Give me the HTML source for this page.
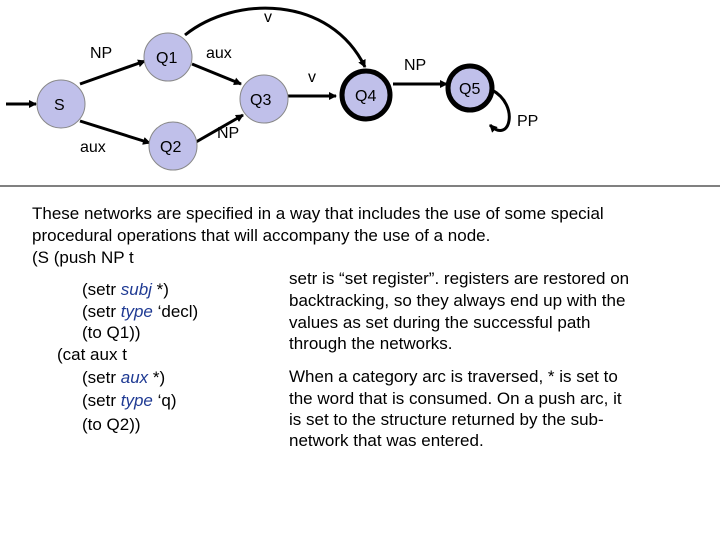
<!DOCTYPE html>
<html><head><meta charset="utf-8"><style>
body{margin:0;background:#fff}
svg{display:block}
text{font-family:"Liberation Sans",Arial,sans-serif}
</style></head><body>
<svg width="720" height="540" viewBox="0 0 720 540" xmlns="http://www.w3.org/2000/svg">
<defs>
<marker id="a" markerWidth="8" markerHeight="8" refX="7" refY="4" orient="auto" markerUnits="userSpaceOnUse">
<path d="M0,0 L8,4 L0,8 z" fill="#000"/></marker>
</defs>
<g stroke="#000" stroke-width="3" fill="none" marker-end="url(#a)">
<line x1="6" y1="104" x2="36" y2="104"/>
<line x1="80" y1="84" x2="145" y2="61"/>
<line x1="80" y1="121" x2="150" y2="143"/>
<line x1="192" y1="64" x2="241" y2="84"/>
<line x1="196" y1="142" x2="243" y2="115"/>
<line x1="288" y1="96" x2="336" y2="96"/>
<line x1="393" y1="84" x2="447" y2="84"/>
<path d="M185,35 C235,-5 330,-5 365,67"/>
<path d="M492,90 C520,105 510,145 490,125" />
</g>
<g fill="#c0c0ea" stroke="#888" stroke-width="1">
<circle cx="61" cy="104" r="24"/>
<circle cx="168" cy="57" r="24"/>
<circle cx="173" cy="146" r="24"/>
<circle cx="264" cy="99" r="24"/>
</g>
<g fill="#c0c0ea" stroke="#000" stroke-width="5">
<circle cx="366" cy="95" r="24"/>
<circle cx="470" cy="88" r="22"/>
</g>
<g font-size="16" fill="#000">
<text x="54" y="110">S</text>
<text x="156" y="63">Q1</text>
<text x="160" y="152">Q2</text>
<text x="250" y="105">Q3</text>
<text x="355" y="101">Q4</text>
<text x="459" y="94">Q5</text>
<text x="90" y="58">NP</text>
<text x="80" y="152">aux</text>
<text x="206" y="58">aux</text>
<text x="217" y="138">NP</text>
<text x="264" y="22">v</text>
<text x="308" y="82">v</text>
<text x="404" y="70">NP</text>
<text x="517" y="126">PP</text>
</g>
<line x1="0" y1="186" x2="720" y2="186" stroke="#000" stroke-width="1"/>
<g font-size="17" fill="#000">
<text x="32" y="219">These networks are specified in a way that includes the use of some special</text>
<text x="32" y="241">procedural operations that will accompany the use of a node.</text>
<text x="32" y="263">(S (push NP  t</text>
<text x="82" y="295">(setr <tspan fill="#1f3a93" font-style="italic">subj</tspan> *)</text>
<text x="82" y="317">(setr <tspan fill="#1f3a93" font-style="italic">type</tspan> ‘decl)</text>
<text x="82" y="338">(to Q1))</text>
<text x="57" y="360">(cat aux  t</text>
<text x="82" y="383">(setr <tspan fill="#1f3a93" font-style="italic">aux</tspan> *)</text>
<text x="82" y="406">(setr <tspan fill="#1f3a93" font-style="italic">type</tspan> ‘q)</text>
<text x="82" y="430">(to Q2))</text>
<text x="289" y="284">setr is “set register”. registers are restored on</text>
<text x="289" y="306">backtracking, so they always end up with the</text>
<text x="289" y="328">values as set during the successful path</text>
<text x="289" y="349">through the networks.</text>
<text x="289" y="382">When a category arc is traversed, * is set to</text>
<text x="289" y="404">the word that is consumed. On a push arc, it</text>
<text x="289" y="425">is set to the structure returned by the sub-</text>
<text x="289" y="446">network that was entered.</text>
</g>
</svg>
</body></html>
